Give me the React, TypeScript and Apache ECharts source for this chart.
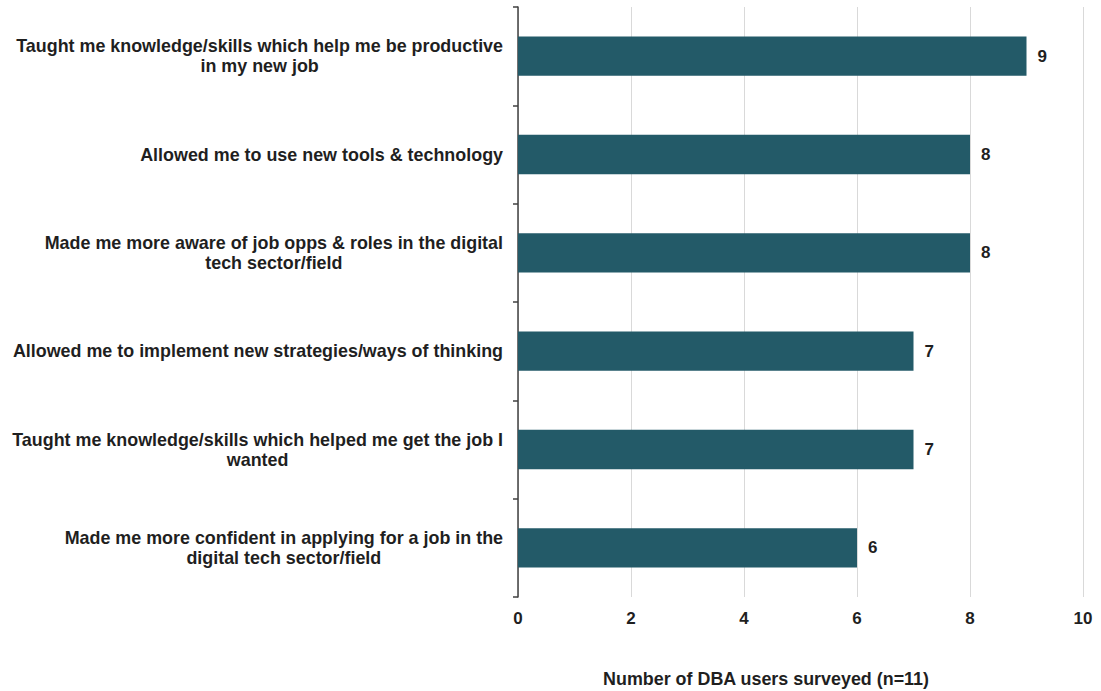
import React, { useEffect, useRef } from "react";
import * as echarts from "echarts";

const categories: string[] = [
  "Taught me knowledge/skills which help me be productive\nin my new job",
  "Allowed me to use new tools & technology",
  "Made me more aware of job opps & roles in the digital\ntech sector/field",
  "Allowed me to implement new strategies/ways of thinking",
  "Taught me knowledge/skills which helped me get the job I\nwanted",
  "Made me more confident in applying for a job in the\ndigital tech sector/field",
];
const values: number[] = [9, 8, 8, 7, 7, 6];
const xAxisTitle = "Number of DBA users surveyed (n=11)";

const FONT = "'Liberation Sans', Arial, sans-serif";
const FS = 17.9;
const TXT = "#1f1f1f";

export default function App() {
  const ref = useRef<HTMLDivElement>(null);
  useEffect(() => {
    if (!ref.current) return;
    const chart = echarts.init(ref.current, undefined, { renderer: "svg" });
    chart.setOption({
      animation: false,
      backgroundColor: "#ffffff",
      textStyle: { fontFamily: FONT },
      grid: { left: 518, right: 18, top: 7, bottom: 94, containLabel: false },
      xAxis: {
        type: "value",
        min: 0,
        max: 10,
        interval: 2,
        axisLine: { show: false },
        axisTick: { show: false },
        splitLine: { show: true, lineStyle: { color: "#d9d9d9", width: 1 } },
        axisLabel: {
          color: TXT,
          fontWeight: "bold",
          fontSize: 17,
          fontFamily: FONT,
          margin: 13,
        },
      },
      yAxis: {
        type: "category",
        inverse: true,
        data: categories,
        axisLine: { show: true, lineStyle: { color: "#404040", width: 1.5 } },
        axisTick: { show: true, length: 5, lineStyle: { color: "#404040", width: 1.5 } },
        axisLabel: {
          margin: 15,
          color: TXT,
          fontFamily: FONT,
          formatter: (v: string) =>
            v
              .split("\n")
              .map((line) => `{c|${line}}`)
              .join("\n"),
          rich: {
            c: {
              align: "center",
              fontWeight: "bold",
              fontSize: FS,
              fontFamily: FONT,
              color: TXT,
              lineHeight: 20,
            },
          },
        },
      },
      series: [
        {
          type: "bar",
          data: values,
          barWidth: "40%",
          itemStyle: { color: "#235A68" },
          label: {
            show: true,
            position: "right",
            distance: 11,
            color: TXT,
            fontWeight: "bold",
            fontSize: 17,
            fontFamily: FONT,
          },
        },
      ],
      graphic: [
        {
          type: "text",
          x: 766,
          y: 679,
          style: {
            text: xAxisTitle,
            fill: TXT,
            font: `bold ${FS}px ${FONT}`,
            align: "center",
            verticalAlign: "middle",
          },
        },
      ],
    });
    return () => chart.dispose();
  }, []);
  return (
    <div
      ref={ref}
      style={{ position: "absolute", left: 0, top: 0, width: 1101, height: 691 }}
    />
  );
}
